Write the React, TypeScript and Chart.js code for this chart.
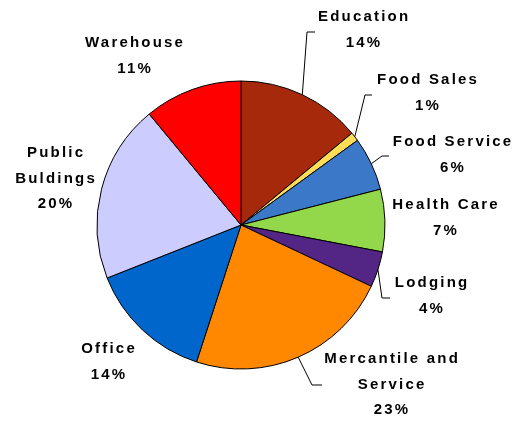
import React, { useEffect, useRef } from "react";
import { Chart, registerables } from "chart.js";

Chart.register(...registerables);

const categories = [
  "Education",
  "Food Sales",
  "Food Service",
  "Health Care",
  "Lodging",
  "Mercantile and\nService",
  "Office",
  "Public\nBuldings",
  "Warehouse",
];
const shares = [14, 1, 6, 7, 4, 23, 14, 20, 11];
const colors = [
  "#A5290A",
  "#FFDD55",
  "#3B78C8",
  "#92D84A",
  "#532585",
  "#FF8800",
  "#0066CC",
  "#CCCCFF",
  "#FF0000",
];

// label layout: centre x, first line y, optional leader elbow/end
const labelLayout = [
  { x: 363, y: 17, leader: [[307, 32], [315, 32]] },
  { x: 427, y: 80, leader: [[365, 95], [372, 95]] },
  { x: 452, y: 142, leader: [[382, 156], [389, 156]] },
  { x: 445, y: 205, leader: null },
  { x: 431, y: 283, leader: [[382, 298], [390, 298]] },
  { x: 391, y: 359, leader: [[312, 385], [322, 385]] },
  { x: 108, y: 349, leader: null },
  { x: 55, y: 153, leader: null },
  { x: 134, y: 43, leader: null },
];

const labelPlugin = {
  id: "pieLabels",
  afterDatasetsDraw(chart: any) {
    const ctx = chart.ctx;
    const meta = chart.getDatasetMeta(0);
    const data = chart.data.datasets[0].data as number[];
    const total = data.reduce((a, b) => a + b, 0);
    ctx.save();
    meta.data.forEach((arc: any, i: number) => {
      const lay = labelLayout[i];
      const { x, y, startAngle, endAngle, outerRadius } = arc.getProps(
        ["x", "y", "startAngle", "endAngle", "outerRadius"],
        true
      );
      if (lay.leader) {
        const mid = (startAngle + endAngle) / 2;
        const sx = x + Math.cos(mid) * outerRadius;
        const sy = y + Math.sin(mid) * outerRadius;
        ctx.beginPath();
        ctx.strokeStyle = "#000";
        ctx.lineWidth = 1;
        ctx.moveTo(sx, sy);
        ctx.lineTo(lay.leader[0][0], lay.leader[0][1]);
        ctx.lineTo(lay.leader[1][0], lay.leader[1][1]);
        ctx.stroke();
      }
      const lines = String(chart.data.labels[i]).split("\n");
      lines.push(Math.round((data[i] / total) * 100) + "%");
      ctx.fillStyle = "#000";
      ctx.font = "bold 15px 'Liberation Sans', Arial, sans-serif";
      (ctx as any).letterSpacing = "2.2px";
      ctx.textAlign = "center";
      ctx.textBaseline = "middle";
      lines.forEach((ln, k) => {
        ctx.fillText(ln, lay.x + 1.1, lay.y + k * 25.5);
      });
    });
    ctx.restore();
  },
};

export default function App() {
  const ref = useRef<HTMLCanvasElement>(null);
  useEffect(() => {
    document.body.style.margin = "0";
    const chart = new Chart(ref.current as HTMLCanvasElement, {
      type: "pie",
      data: {
        labels: categories,
        datasets: [
          {
            data: shares,
            backgroundColor: colors,
            borderColor: "#000",
            borderWidth: 1,
            hoverOffset: 0,
          },
        ],
      },
      options: {
        animation: false,
        responsive: false,
        radius: 144,
        layout: { padding: { left: 60, right: 93, top: 40, bottom: 11 } },
        plugins: {
          legend: { display: false },
          tooltip: { enabled: false },
        },
      } as any,
      plugins: [labelPlugin],
    });
    return () => chart.destroy();
  }, []);
  return (
    <div style={{ width: 515, height: 421, background: "#fff" }}>
      <canvas ref={ref} width={515} height={421} />
    </div>
  );
}
